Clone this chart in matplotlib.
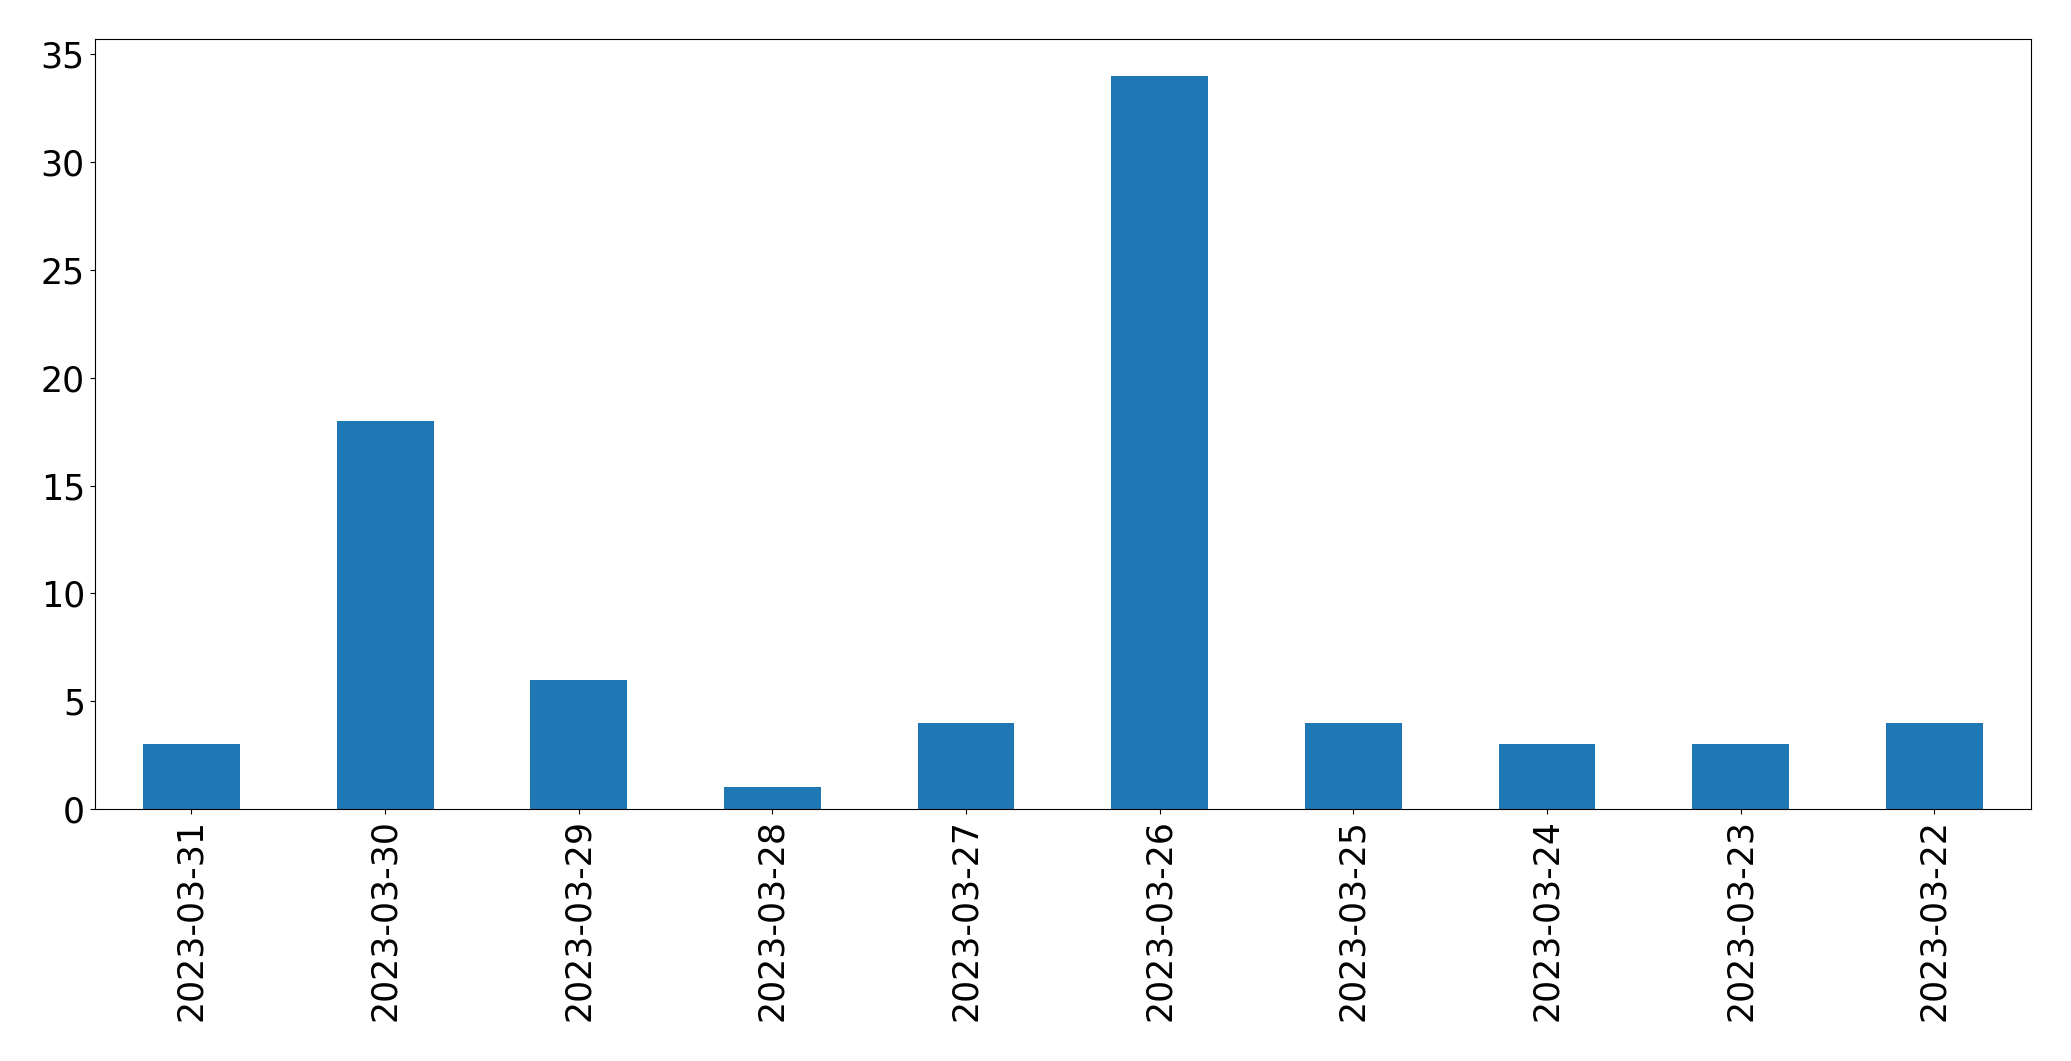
import matplotlib
matplotlib.use("Agg")
import matplotlib.pyplot as plt
import numpy as np

dates = ["2023-03-31", "2023-03-30", "2023-03-29", "2023-03-28", "2023-03-27",
         "2023-03-26", "2023-03-25", "2023-03-24", "2023-03-23", "2023-03-22"]
counts = [3, 18, 6, 1, 4, 34, 4, 3, 3, 4]

fig = plt.figure(figsize=(20.71, 10.61), dpi=100)
ax = fig.add_axes([0.0457, 0.2375, 0.935, 0.7255])

x = np.arange(len(dates))
ax.bar(x, counts, width=0.5, color="#1f77b4")
ax.set_xlim(-0.5, len(dates) - 0.5)
ax.set_xticks(x)
ax.set_xticklabels(dates, rotation=90)
ax.tick_params(axis="both", labelsize=25)

fig.savefig("out.png", dpi=100)
